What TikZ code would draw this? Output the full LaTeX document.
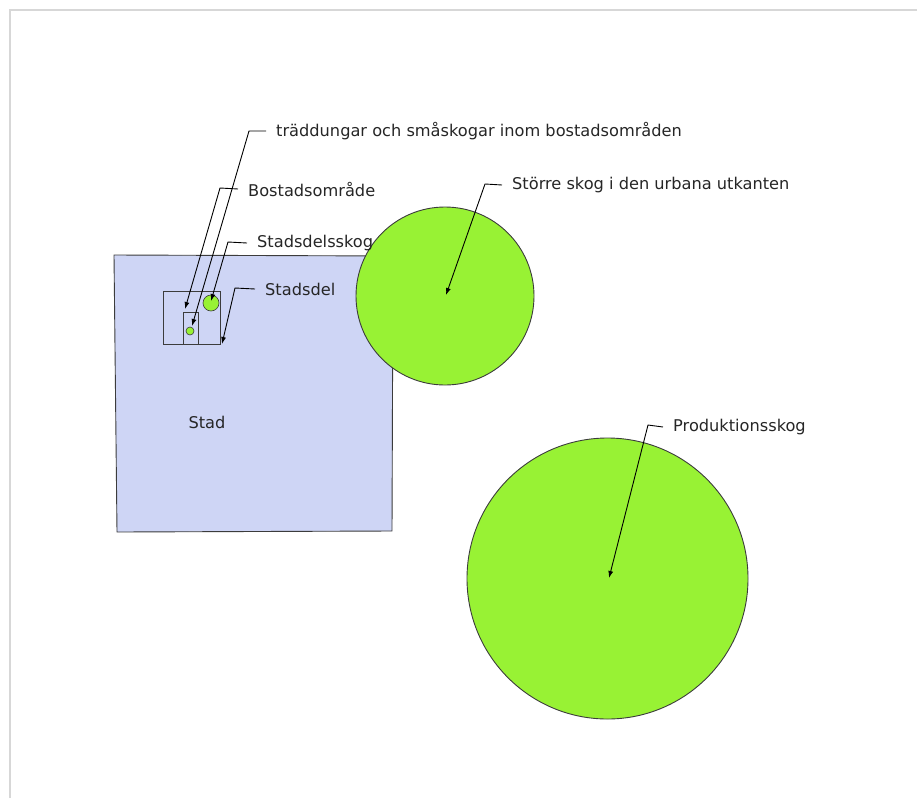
\documentclass[tikz,border=0pt]{standalone}
\usepackage{fontspec}
\setmainfont{DejaVu Sans}
\usetikzlibrary{arrows.meta}
\definecolor{cityblue}{RGB}{206,213,245}
\definecolor{forest}{RGB}{152,242,52}
\definecolor{edge}{RGB}{60,60,60}
\definecolor{frameg}{RGB}{215,215,215}
\begin{document}
\begin{tikzpicture}[x=1pt,y=-1pt,
  shape outline/.style={draw=edge,line width=0.9pt},
  leader/.style={draw=black,line width=0.9pt,-{Latex[length=7pt,width=5pt]}},
  lbl/.style={anchor=west,inner sep=0pt,font=\fontsize{16.2}{18}\selectfont,text=black!85}]
\useasboundingbox (0,0) rectangle (917,798);
% page frame shadow
\draw[frameg,line width=1.5pt] (10,798) -- (10,10) -- (917,10);
% city
\filldraw[shape outline,fill=cityblue] (114,255) -- (393,256) -- (392,531) -- (117,532) -- cycle;
\node[lbl,anchor=center] (stad) at (207,422) {Stad};
% forests
\filldraw[shape outline,fill=forest] (445,296) circle[radius=89];
\filldraw[shape outline,fill=forest] (607.5,578.5) circle[radius=140.5];
\coordinate (c1) at (446,295);
\coordinate (c2) at (609,578);
% district
\draw[shape outline] (163,291) rectangle (220,344);
\draw[shape outline] (183,312) rectangle (198,344);
\filldraw[shape outline,line width=0.6pt,fill=forest] (211,303) circle[radius=8];
\filldraw[shape outline,line width=0.6pt,fill=forest] (190,331) circle[radius=4];
\coordinate (boxtop) at (185,309);
\coordinate (smallc) at (192,326);
\coordinate (midc) at (211,301);
\coordinate (corner) at (222,344);
% labels
\node[lbl] (t1) at (276,131) {träddungar och småskogar inom bostadsområden};
\node[lbl] (t2) at (248,189) {Bostadsområde};
\node[lbl] (t3) at (257,243) {Stadsdelsskog};
\node[lbl] (t4) at (265,289) {Stadsdel};
\node[lbl] (t5) at (512,185) {Större skog i den urbana utkanten};
\node[lbl] (t6) at (673,427) {Produktionsskog};
% leaders
\coordinate (k1) at (249,131);
\coordinate (k2) at (220,188);
\coordinate (k3) at (228,242);
\coordinate (k4) at (235,288);
\coordinate (k5) at (485,184);
\coordinate (k6) at (648,425);
\draw[leader] ([xshift=-10pt]t1.west) -- (k1) -- (smallc);
\draw[leader] ([xshift=-10pt]t2.west) -- (k2) -- (boxtop);
\draw[leader] ([xshift=-10pt]t3.west) -- (k3) -- (midc);
\draw[leader] ([xshift=-10pt]t4.west) -- (k4) -- (corner);
\draw[leader] ([xshift=-10pt]t5.west) -- (k5) -- (c1);
\draw[leader] ([xshift=-10pt]t6.west) -- (k6) -- (c2);
\end{tikzpicture}
\end{document}
